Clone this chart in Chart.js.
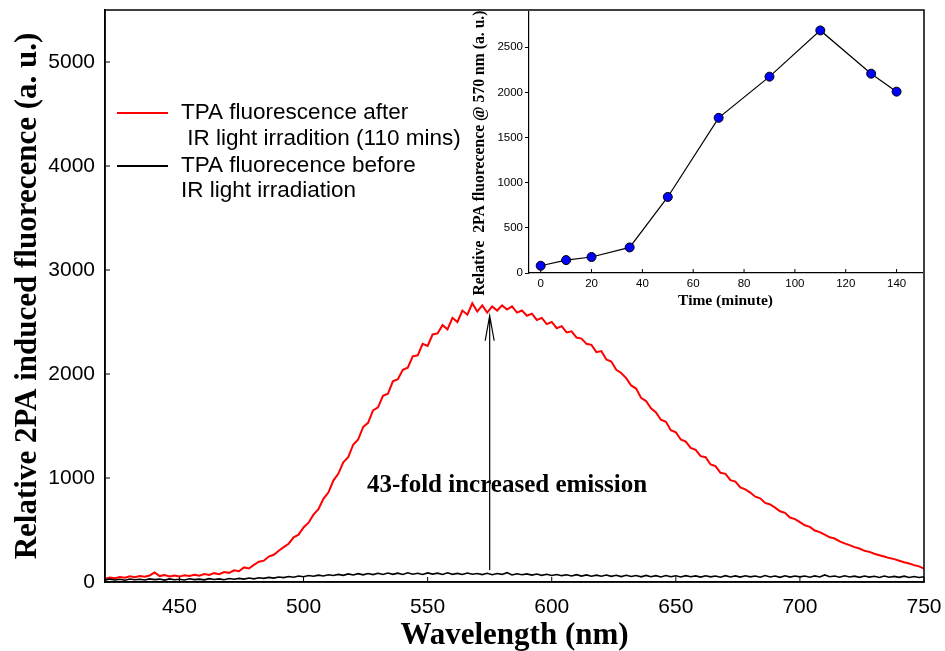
<!DOCTYPE html>
<html>
<head>
<meta charset="utf-8">
<title>2PA fluorescence</title>
<script src="https://cdn.jsdelivr.net/npm/chart.js@4.4.0/dist/chart.umd.min.js"></script>
<style>
  html, body { margin: 0; padding: 0; background: #fff; }
  #wrap { position: relative; width: 945px; height: 651px; }
  #spectrumChart { position: absolute; left: 0; top: 0; }
  #timeChart { position: absolute; left: 470px; top: 0; }
</style>
</head>
<body>
<div id="wrap">
  <canvas id="spectrumChart" width="945" height="651"></canvas>
  <canvas id="timeChart" width="470" height="320"></canvas>
</div>
<script>

// emission spectra, sampled every 2 nm
const wavelengths = [
    420, 422, 424, 426, 428, 430, 432, 434, 436, 438,
    440, 442, 444, 446, 448, 450, 452, 454, 456, 458,
    460, 462, 464, 466, 468, 470, 472, 474, 476, 478,
    480, 482, 484, 486, 488, 490, 492, 494, 496, 498,
    500, 502, 504, 506, 508, 510, 512, 514, 516, 518,
    520, 522, 524, 526, 528, 530, 532, 534, 536, 538,
    540, 542, 544, 546, 548, 550, 552, 554, 556, 558,
    560, 562, 564, 566, 568, 570, 572, 574, 576, 578,
    580, 582, 584, 586, 588, 590, 592, 594, 596, 598,
    600, 602, 604, 606, 608, 610, 612, 614, 616, 618,
    620, 622, 624, 626, 628, 630, 632, 634, 636, 638,
    640, 642, 644, 646, 648, 650, 652, 654, 656, 658,
    660, 662, 664, 666, 668, 670, 672, 674, 676, 678,
    680, 682, 684, 686, 688, 690, 692, 694, 696, 698,
    700, 702, 704, 706, 708, 710, 712, 714, 716, 718,
    720, 722, 724, 726, 728, 730, 732, 734, 736, 738,
    740, 742, 744, 746, 748, 750
];

// after 110 min IR irradiation
const tpaAfter = [
    32, 44, 36, 48, 41, 54, 46, 58, 50, 63,
    92, 57, 66, 54, 63, 52, 65, 57, 70, 61,
    76, 67, 85, 75, 96, 88, 112, 104, 140, 130,
    165, 195, 205, 245, 262, 300, 335, 368, 430, 455,
    525, 570, 648, 700, 800, 860, 975, 1040, 1150, 1200,
    1320, 1370, 1490, 1530, 1650, 1680, 1790, 1810, 1930, 1950,
    2040, 2060, 2170, 2180, 2290, 2270, 2380, 2390, 2470, 2430,
    2540, 2500, 2610, 2570, 2680, 2600, 2660, 2590, 2650, 2610,
    2660, 2620, 2650, 2590, 2610, 2560, 2580, 2520, 2540, 2480,
    2500, 2440, 2460, 2400, 2410, 2350, 2340, 2290, 2280, 2210,
    2220, 2140, 2120, 2040, 2010, 1960, 1890, 1860, 1770, 1740,
    1670, 1630, 1560, 1540, 1460, 1440, 1370, 1350, 1290, 1270,
    1210, 1200, 1130, 1115, 1050, 1040, 980, 965, 910, 890,
    860, 820, 805, 760, 745, 715, 680, 665, 620, 605,
    575, 545, 530, 495, 480, 455, 430, 418, 390, 372,
    355, 335, 322, 300, 290, 272, 258, 245, 230, 220,
    205, 190, 178, 162, 150, 130
];

// before irradiation
const tpaBefore = [
    18, 28, 20, 26, 17, 29, 22, 27, 19, 30,
    23, 28, 18, 30, 22, 27, 20, 31, 23, 28,
    21, 32, 24, 30, 22, 33, 26, 35, 28, 38,
    30, 41, 35, 44, 37, 48, 42, 53, 46, 58,
    50, 62, 55, 66, 58, 70, 62, 73, 64, 78,
    67, 80, 69, 82, 71, 84, 72, 86, 74, 85,
    73, 88, 75, 84, 72, 87, 76, 85, 73, 88,
    74, 83, 72, 86, 75, 82, 71, 84, 70, 81,
    73, 90, 68, 79, 70, 78, 66, 77, 64, 75,
    63, 72, 61, 70, 58, 71, 57, 68, 56, 66,
    55, 67, 54, 65, 52, 64, 53, 62, 50, 63,
    51, 61, 49, 62, 50, 60, 48, 61, 50, 59,
    47, 60, 49, 58, 46, 61, 48, 59, 47, 60,
    49, 58, 46, 62, 48, 57, 45, 60, 47, 58,
    49, 57, 46, 59, 48, 68, 50, 57, 46, 60,
    48, 56, 45, 58, 47, 55, 44, 58, 46, 54,
    45, 56, 43, 53, 44, 50
];

// intensity at 570 nm vs irradiation time
const minutes = [0, 10, 20, 35, 50, 70, 90, 110, 130, 140];
const intensity570 = [80, 143, 177, 283, 842, 1718, 2174, 2686, 2207, 2008];

// tick labels
const wlTicks = [450, 500, 550, 600, 650, 700, 750];
const fluoTicks = [0, 1000, 2000, 3000, 4000, 5000];
const timeTicks = [0, 20, 40, 60, 80, 100, 120, 140];
const intensityTicks = [0, 500, 1000, 1500, 2000, 2500];

const SANS = "'Liberation Sans', Arial, sans-serif";
const SERIF = "'Liberation Serif', 'Times New Roman', serif";

// arrow from the baseline up to the peak at 575 nm
const arrowAt = 575, arrowFrom = 115, arrowTo = 2560;

function toPoints(xs, ys) {
    return xs.map((v, i) => ({ x: v, y: ys[i] }));
}

function setTicks(values) {
    return (scale) => { scale.ticks = values.map(v => ({ value: v })); };
}

// keep the plot box fixed, no extra room for the end labels
function fixWidth(w) {
    return (scale) => { scale.width = w; scale.paddingTop = 0; scale.paddingBottom = 0; };
}
function fixHeight(h) {
    return (scale) => { scale.height = h; scale.paddingLeft = 0; scale.paddingRight = 0; };
}

// frame, inward ticks, legend and the annotation arrow
const spectrumDecor = {
    id: 'spectrumDecor',
    afterDraw(chart) {
        const { ctx, chartArea: a, scales: { x, y } } = chart;
        ctx.save();
        ctx.strokeStyle = '#000';
        ctx.lineWidth = 1.5;
        ctx.strokeRect(a.left, a.top, a.right - a.left, a.bottom - a.top);

        ctx.lineWidth = 1;
        ctx.beginPath();
        wlTicks.forEach(v => {
            const px = x.getPixelForValue(v);
            ctx.moveTo(px, a.bottom);
            ctx.lineTo(px, a.bottom - 5);
        });
        fluoTicks.forEach(v => {
            const py = y.getPixelForValue(v);
            ctx.moveTo(a.left, py);
            ctx.lineTo(a.left + 5, py);
        });
        ctx.stroke();

        // legend
        ctx.lineWidth = 2;
        ctx.strokeStyle = '#ff0000';
        ctx.beginPath(); ctx.moveTo(117, 113); ctx.lineTo(168, 113); ctx.stroke();
        ctx.strokeStyle = '#000';
        ctx.beginPath(); ctx.moveTo(117, 166); ctx.lineTo(168, 166); ctx.stroke();

        ctx.fillStyle = '#000';
        ctx.font = '22.5px ' + SANS;
        ctx.textBaseline = 'middle';
        ctx.textAlign = 'left';
        ctx.fillText('TPA fluorescence after', 181, 113);
        ctx.fillText(' IR light irradition (110 mins)', 181, 139);
        ctx.fillText('TPA fluorecence before', 181, 166);
        ctx.fillText('IR light irradiation', 181, 191);

        // arrow
        const ax = x.getPixelForValue(arrowAt);
        const y0 = y.getPixelForValue(arrowFrom);
        const y1 = y.getPixelForValue(arrowTo);
        ctx.lineWidth = 1.2;
        ctx.beginPath();
        ctx.moveTo(ax, y0);
        ctx.lineTo(ax, y1);
        ctx.moveTo(ax - 4.5, y1 + 25);
        ctx.lineTo(ax, y1);
        ctx.lineTo(ax + 4.5, y1 + 25);
        ctx.stroke();

        ctx.font = 'bold 25px ' + SERIF;
        ctx.textAlign = 'center';
        ctx.fillText('43-fold increased emission', x.getPixelForValue(582), y.getPixelForValue(930));
        ctx.restore();
    }
};

const spectrumChart = new Chart(document.getElementById('spectrumChart'), {
    type: 'line',
    data: {
        datasets: [{
            label: 'TPA fluorescence after IR light irradition (110 mins)',
            data: toPoints(wavelengths, tpaAfter),
            borderColor: '#ff0000',
            borderWidth: 2,
            pointRadius: 0,
            order: 2
        }, {
            label: 'TPA fluorecence before IR light irradiation',
            data: toPoints(wavelengths, tpaBefore),
            borderColor: '#000000',
            borderWidth: 1.6,
            pointRadius: 0,
            order: 1
        }]
    },
    options: {
        responsive: false,
        animation: false,
        devicePixelRatio: 1,
        layout: { padding: { top: 10, right: 21, left: 0, bottom: 0 } },
        plugins: { legend: { display: false }, tooltip: { enabled: false } },
        scales: {
            x: {
                type: 'linear',
                min: 420,
                max: 750,
                afterBuildTicks: setTicks(wlTicks),
                afterFit: fixHeight(69),
                grid: { drawOnChartArea: false, drawTicks: false },
                border: { display: true, color: '#000', width: 1.5 },
                ticks: {
                    color: '#000',
                    padding: 13,
                    font: { family: SANS, size: 21 },
                    callback: (v) => String(v)
                },
                title: {
                    display: true,
                    text: 'Wavelength (nm)',
                    color: '#000',
                    font: { family: SERIF, size: 31, weight: 'bold', lineHeight: 1 },
                    padding: { top: 0, bottom: 0 }
                }
            },
            y: {
                min: 0,
                max: 5500,
                afterBuildTicks: setTicks(fluoTicks),
                afterFit: fixWidth(105),
                grid: { drawOnChartArea: false, drawTicks: false },
                border: { display: true, color: '#000', width: 1.5 },
                ticks: {
                    color: '#000',
                    padding: 10,
                    font: { family: SANS, size: 21 },
                    callback: (v) => String(v)
                },
                title: {
                    display: true,
                    text: 'Relative 2PA induced fluorecence (a. u.)',
                    color: '#000',
                    font: { family: SERIF, size: 31, weight: 'bold', lineHeight: 1 },
                    padding: { top: 12, bottom: 0 }
                }
            }
        }
    },
    plugins: [spectrumDecor]
});

// inset: x ticks point up into the plot, y title sits a little low
const timeDecor = {
    id: 'timeDecor',
    afterDraw(chart) {
        const { ctx, chartArea: a, scales: { x } } = chart;
        ctx.save();
        ctx.strokeStyle = '#000';
        ctx.lineWidth = 1;
        ctx.beginPath();
        timeTicks.forEach(v => {
            const px = x.getPixelForValue(v);
            ctx.moveTo(px, a.bottom);
            ctx.lineTo(px, a.bottom - 4);
        });
        ctx.stroke();

        ctx.translate(10, 153);
        ctx.rotate(-Math.PI / 2);
        ctx.fillStyle = '#000';
        ctx.font = 'bold 15.7px ' + SERIF;
        ctx.textAlign = 'center';
        ctx.textBaseline = 'middle';
        ctx.fillText('Relative  2PA fluorecence @ 570 nm (a. u.)', 0, 0);
        ctx.restore();
    }
};

const timeChart = new Chart(document.getElementById('timeChart'), {
    type: 'line',
    data: {
        datasets: [{
            data: toPoints(minutes, intensity570),
            borderColor: '#000',
            borderWidth: 1.2,
            pointRadius: 4.5,
            pointBackgroundColor: '#0000ff',
            pointBorderColor: '#000',
            pointBorderWidth: 1
        }]
    },
    options: {
        responsive: false,
        animation: false,
        devicePixelRatio: 1,
        layout: { padding: { top: 12, right: 18, left: 0, bottom: 0 } },
        plugins: { legend: { display: false }, tooltip: { enabled: false } },
        scales: {
            x: {
                type: 'linear',
                min: -4.6,
                max: 150,
                afterBuildTicks: setTicks(timeTicks),
                afterFit: fixHeight(47),
                grid: { drawOnChartArea: false, drawTicks: false },
                border: { display: true, color: '#000', width: 1.2 },
                ticks: {
                    color: '#000',
                    padding: 4,
                    font: { family: SANS, size: 11.5 },
                    callback: (v) => String(v)
                },
                title: {
                    display: true,
                    text: 'Time (minute)',
                    color: '#000',
                    font: { family: SERIF, size: 15.5, weight: 'bold', lineHeight: 1 },
                    padding: { top: 0, bottom: 11 }
                }
            },
            y: {
                min: 0,
                max: 2890,
                afterBuildTicks: setTicks(intensityTicks),
                afterFit: fixWidth(59),
                grid: { drawOnChartArea: false, drawTicks: true, tickLength: 4, color: '#000' },
                border: { display: true, color: '#000', width: 1.2 },
                ticks: {
                    color: '#000',
                    padding: 2,
                    font: { family: SANS, size: 11.5 },
                    callback: (v) => String(v)
                }
            }
        }
    },
    plugins: [timeDecor]
});
</script>
</body>
</html>
